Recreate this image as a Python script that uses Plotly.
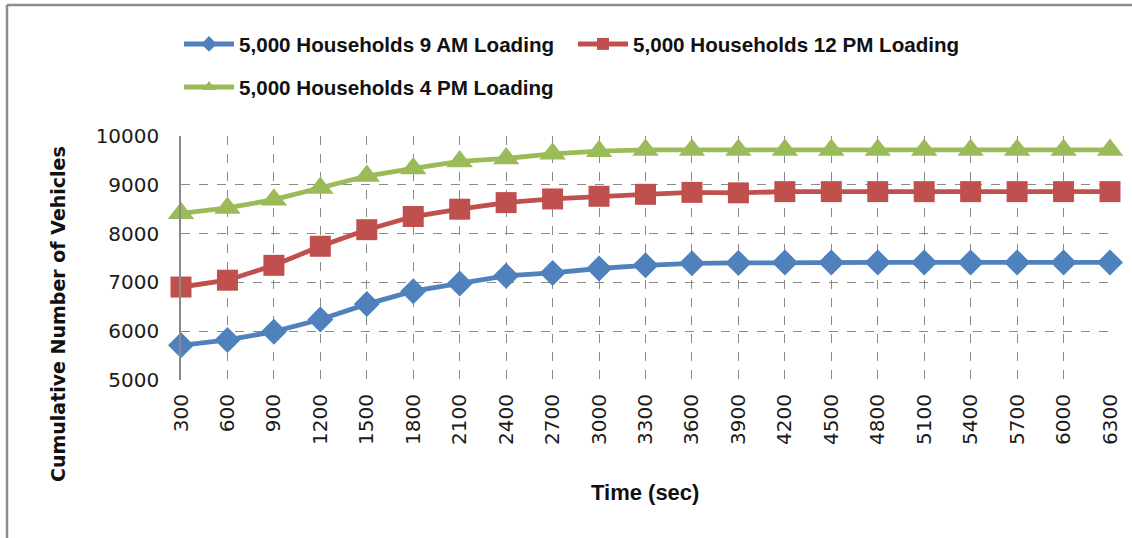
import plotly.graph_objects as go

time_sec = [300, 600, 900, 1200, 1500, 1800, 2100, 2400, 2700, 3000, 3300,
            3600, 3900, 4200, 4500, 4800, 5100, 5400, 5700, 6000, 6300]

am9 = [5710, 5820, 5990, 6240, 6555, 6820, 6980, 7135, 7195, 7285, 7350,
       7390, 7400, 7410, 7410, 7410, 7410, 7410, 7410, 7410, 7410]
pm12 = [6905, 7045, 7350, 7740, 8080, 8350, 8500, 8635, 8710, 8765, 8805,
        8845, 8835, 8860, 8860, 8860, 8860, 8860, 8860, 8860, 8860]
pm4 = [8415, 8525, 8695, 8935, 9180, 9335, 9480, 9540, 9635, 9690, 9715,
       9715, 9715, 9715, 9715, 9715, 9715, 9715, 9715, 9715, 9715]

names = ["5,000 Households 9 AM Loading",
         "5,000 Households 12 PM Loading",
         "5,000 Households 4 PM Loading"]
colors = ["#4F81BD", "#C0504D", "#9BBB59"]
symbols = ["diamond", "square", "triangle-up"]
sizes = [20, 21, 23]
series = [am9, pm12, pm4]
legends = ["legend", "legend2", "legend3"]

fig = go.Figure()
for vals, nm, c, s, sz, lg in zip(series, names, colors, symbols, sizes, legends):
    fig.add_trace(go.Scatter(
        x=time_sec, y=vals, name=nm, mode="lines+markers",
        line=dict(color=c, width=4.8),
        marker=dict(color=c, symbol=s, size=sz),
        legend=lg, cliponaxis=False, showlegend=True,
    ))

L, R, T, B = 181, 22, 136, 158
W, H = 1132, 538
pw, ph = W - L - R, H - T - B

def px_x(p):
    return (p - L) / pw

def px_y(p):
    return (H - B - p) / ph

legfont = dict(family="Liberation Sans, Arial", size=20.6, color="#111111", weight="bold")
common = dict(orientation="h", xanchor="left", yanchor="middle", bgcolor="rgba(0,0,0,0)",
              font=legfont, itemwidth=50, itemsizing="constant")

fig.update_layout(
    width=W, height=H,
    margin=dict(l=L, r=R, t=T, b=B),
    paper_bgcolor="white", plot_bgcolor="white",
    font=dict(family="DejaVu Sans", color="#1a1a1a"),
    showlegend=True,
    legend=dict(x=px_x(179), y=px_y(44), **common),
    legend2=dict(x=px_x(573), y=px_y(44), **common),
    legend3=dict(x=px_x(179), y=px_y(87), **common),
    xaxis=dict(
        range=[300, 6300], tickmode="array", tickvals=time_sec,
        ticktext=[str(t) for t in time_sec],
        tickangle=-90, tickfont=dict(family="DejaVu Sans", size=20, color="#1a1a1a"),
        showgrid=True, gridcolor="#8a8a8a", griddash="dash", gridwidth=1,
        showline=True, linecolor="white", linewidth=3,
        ticks="", ticklabelstandoff=3,
        automargin=False, zeroline=False,
    ),
    yaxis=dict(
        range=[5000, 10000], dtick=1000, tick0=5000, tickformat="d",
        tickfont=dict(family="DejaVu Sans", size=20, color="#1a1a1a"),
        showgrid=True, gridcolor="#8a8a8a", griddash="dash", gridwidth=1,
        showline=True, linecolor="#8a8a8a", linewidth=1.5,
        ticks="", ticklabelstandoff=16,
        automargin=False, zeroline=False,
    ),
    annotations=[
        dict(text="<b>Cumulative Number of Vehicles</b>", textangle=-90,
             xref="paper", yref="paper", x=px_x(58), y=px_y(314),
             xanchor="center", yanchor="middle", showarrow=False,
             font=dict(family="DejaVu Sans", size=19, color="#111111")),
        dict(text="<b>Time (sec)</b>",
             xref="paper", yref="paper", x=px_x(645), y=px_y(492),
             xanchor="center", yanchor="middle", showarrow=False,
             font=dict(family="Liberation Sans, Arial", size=22, color="#111111")),
    ],
    shapes=[
        dict(type="line", xref="paper", yref="paper", x0=px_x(7), x1=px_x(1140),
             y0=px_y(5), y1=px_y(5), line=dict(color="#8c8c8c", width=2.5)),
        dict(type="line", xref="paper", yref="paper", x0=px_x(7), x1=px_x(7),
             y0=px_y(5), y1=px_y(545), line=dict(color="#8c8c8c", width=2.5)),
    ],
)

fig.write_html("out.html", config={"displayModeBar": False},
               post_script="document.body.style.margin='0';")
